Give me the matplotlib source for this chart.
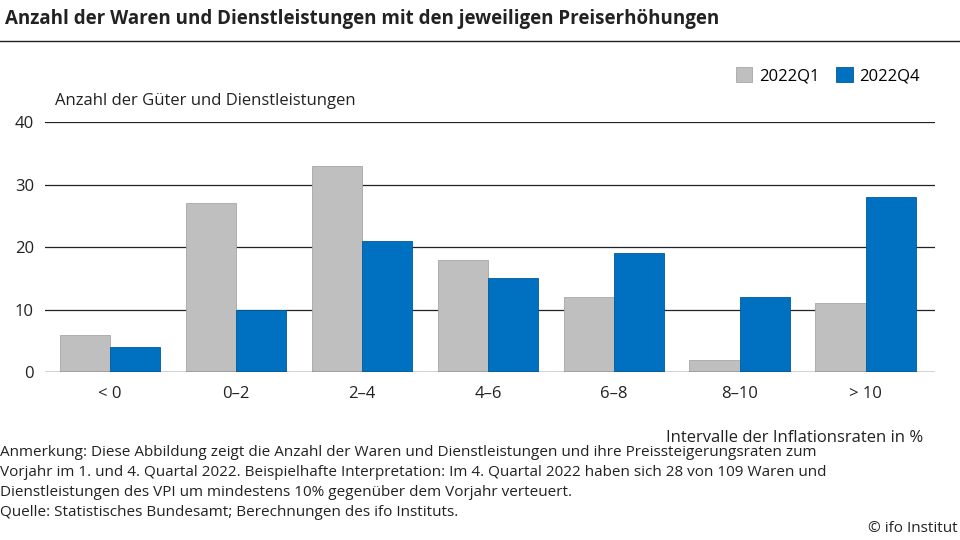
import numpy as np
import matplotlib
matplotlib.use('Agg')
import matplotlib.pyplot as plt

plt.rcParams['font.family'] = ['Open Sans', 'DejaVu Sans']

categories = ['< 0', '0–2', '2–4', '4–6', '6–8', '8–10', '> 10']
q1 = [6, 27, 33, 18, 12, 2, 11]
q4 = [4, 10, 21, 15, 19, 12, 28]

fig = plt.figure(figsize=(9.6, 5.4), dpi=100)
ax = fig.add_axes([0.047, 0.311, 0.927, 0.463])
x = np.arange(len(categories))
w = 0.4
ax.bar(x - w / 2, q1, w, color='#bfbfbf', edgecolor='#a6a6a6', linewidth=0.6, label='2022Q1', zorder=3)
ax.bar(x + w / 2, q4, w, color='#0070c0', edgecolor='#005a9a', linewidth=0.6, label='2022Q4', zorder=3)
ax.set_xlim(-0.516, 6.55)
ax.set_ylim(0, 40)
ax.set_yticks([0, 10, 20, 30, 40])
ax.set_xticks(x)
ax.set_xticklabels(categories)
ax.tick_params(length=0, labelsize=12, colors='#222222')
ax.tick_params(axis='x', pad=10)
ax.tick_params(axis='y', pad=8)
for y in [10, 20, 30, 40]:
    ax.axhline(y, color='#222222', linewidth=0.9, zorder=1)
ax.axhline(0, color='#222222', linewidth=1.0, zorder=4)
for s in ax.spines.values():
    s.set_visible(False)

fig.text(0.005, 0.965, 'Anzahl der Waren und Dienstleistungen mit den jeweiligen Preiserhöhungen',
         fontsize=13.5, fontweight='bold', va='center', color='#222222')
fig.add_artist(plt.Line2D([0, 1], [0.925, 0.925], color='#222222', linewidth=1.0))
fig.text(0.057, 0.813, 'Anzahl der Güter und Dienstleistungen', fontsize=12, va='center', color='#222222')
fig.text(0.962, 0.189, 'Intervalle der Inflationsraten in %', fontsize=12, va='center', ha='right', color='#222222')
ax.legend(loc='lower right', bbox_to_anchor=(1.0, 1.09), ncol=2, frameon=False, fontsize=12,
          handlelength=1.0, handleheight=1.0, columnspacing=1.0, handletextpad=0.4)

note = ('Anmerkung: Diese Abbildung zeigt die Anzahl der Waren und Dienstleistungen und ihre Preissteigerungsraten zum\n'
        'Vorjahr im 1. und 4. Quartal 2022. Beispielhafte Interpretation: Im 4. Quartal 2022 haben sich 28 von 109 Waren und\n'
        'Dienstleistungen des VPI um mindestens 10% gegenüber dem Vorjahr verteuert.\n'
        'Quelle: Statistisches Bundesamt; Berechnungen des ifo Instituts.')
fig.text(0.0, 0.175, note, fontsize=11, va='top', color='#222222', linespacing=1.45)
fig.text(0.998, 0.022, '© ifo Institut', fontsize=11, ha='right', va='center', color='#222222')

fig.savefig('out.png', dpi=100)
